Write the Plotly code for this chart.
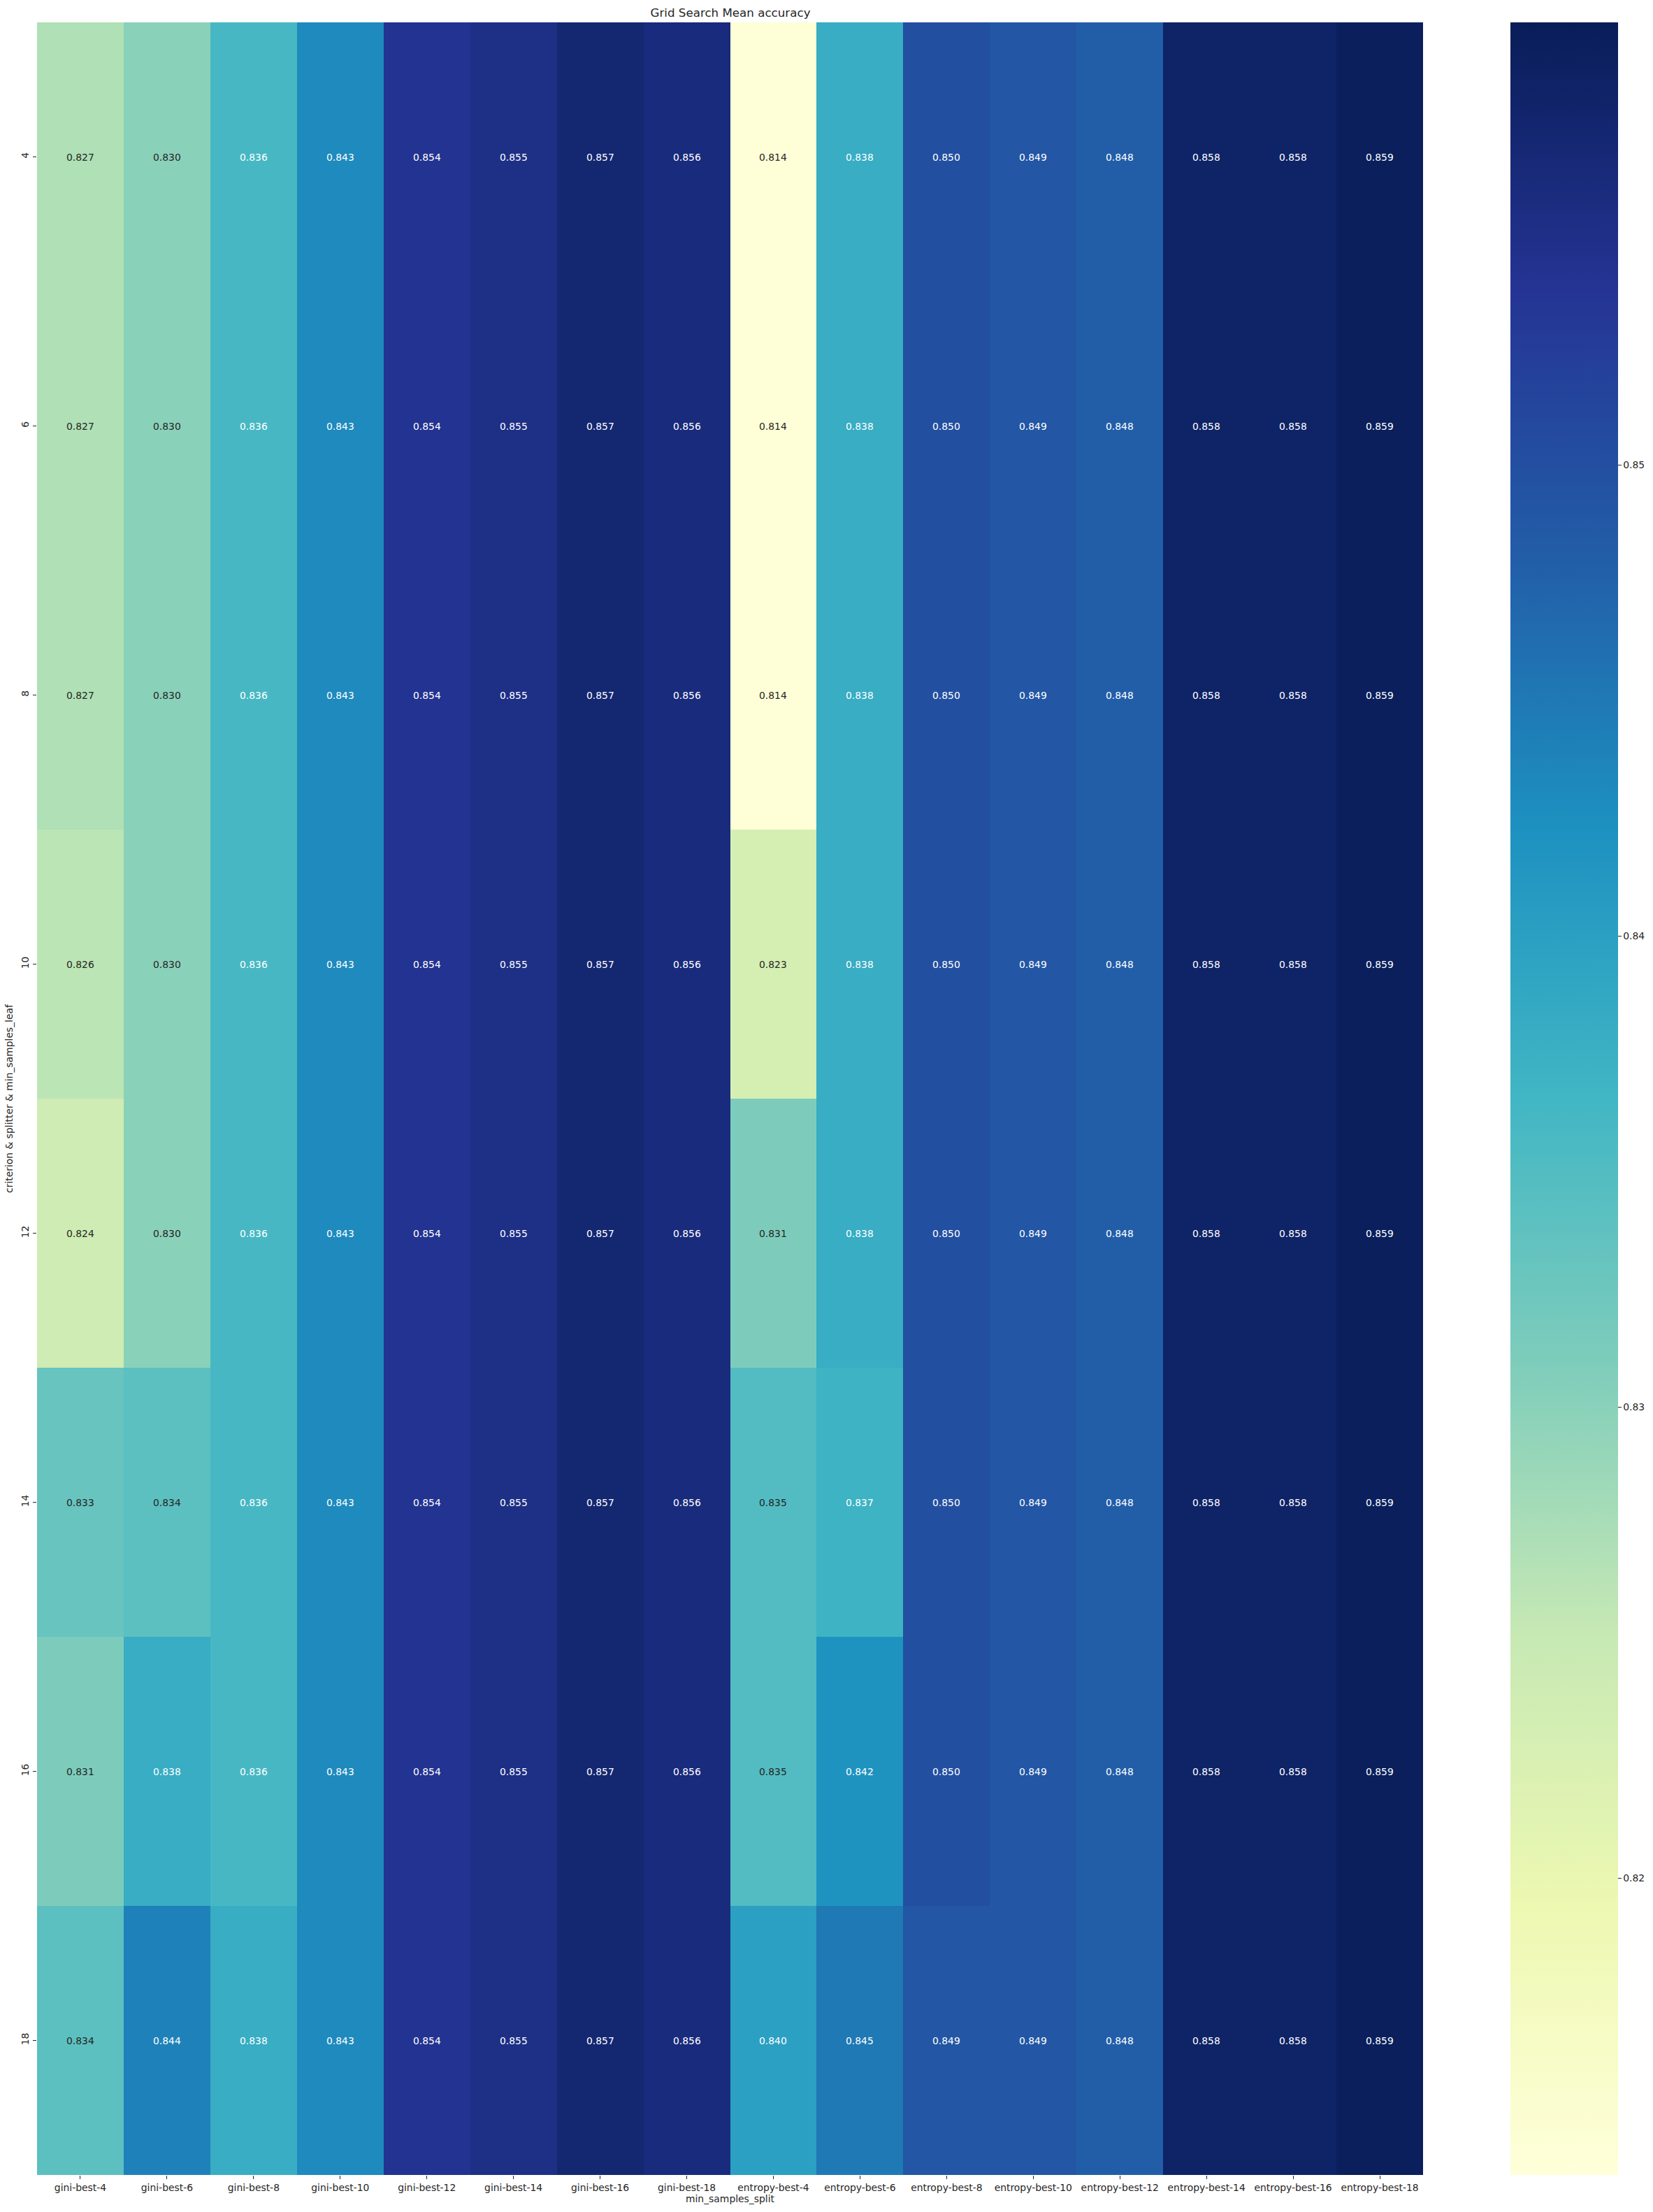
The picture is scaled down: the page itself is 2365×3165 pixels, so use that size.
import plotly.graph_objects as go
from plotly.colors import sample_colorscale

x_labels = ["gini-best-4", "gini-best-6", "gini-best-8", "gini-best-10", "gini-best-12",
            "gini-best-14", "gini-best-16", "gini-best-18", "entropy-best-4", "entropy-best-6",
            "entropy-best-8", "entropy-best-10", "entropy-best-12", "entropy-best-14",
            "entropy-best-16", "entropy-best-18"]
y_labels = ["4", "6", "8", "10", "12", "14", "16", "18"]

row_4 = [0.827, 0.830, 0.836, 0.843, 0.854, 0.855, 0.857, 0.856, 0.814, 0.838, 0.850, 0.849, 0.848, 0.858, 0.858, 0.859]
row_6 = [0.827, 0.830, 0.836, 0.843, 0.854, 0.855, 0.857, 0.856, 0.814, 0.838, 0.850, 0.849, 0.848, 0.858, 0.858, 0.859]
row_8 = [0.827, 0.830, 0.836, 0.843, 0.854, 0.855, 0.857, 0.856, 0.814, 0.838, 0.850, 0.849, 0.848, 0.858, 0.858, 0.859]
row_10 = [0.826, 0.830, 0.836, 0.843, 0.854, 0.855, 0.857, 0.856, 0.823, 0.838, 0.850, 0.849, 0.848, 0.858, 0.858, 0.859]
row_12 = [0.824, 0.830, 0.836, 0.843, 0.854, 0.855, 0.857, 0.856, 0.831, 0.838, 0.850, 0.849, 0.848, 0.858, 0.858, 0.859]
row_14 = [0.833, 0.834, 0.836, 0.843, 0.854, 0.855, 0.857, 0.856, 0.835, 0.837, 0.850, 0.849, 0.848, 0.858, 0.858, 0.859]
row_16 = [0.831, 0.838, 0.836, 0.843, 0.854, 0.855, 0.857, 0.856, 0.835, 0.842, 0.850, 0.849, 0.848, 0.858, 0.858, 0.859]
row_18 = [0.834, 0.844, 0.838, 0.843, 0.854, 0.855, 0.857, 0.856, 0.840, 0.845, 0.849, 0.849, 0.848, 0.858, 0.858, 0.859]

z = [row_4, row_6, row_8, row_10, row_12, row_14, row_16, row_18]

ZMIN, ZMAX = 0.8137, 0.8594
cbar_ticks = [0.82, 0.83, 0.84, 0.85]

W, H = 2365, 3165
L, R, T, B = 53, 2037, 32, 3112
FONT = "DejaVu Sans"
INK = "#262626"
SMALL = 13.9
TITLE = 16.7

fig = go.Figure()
fig.add_trace(go.Heatmap(
    z=z, x=x_labels, y=y_labels,
    colorscale="YlGnBu", zmin=ZMIN, zmax=ZMAX,
    colorbar=dict(
        x=(2161 - L) / (R - L), xanchor="left", xpad=0,
        y=0.5, yanchor="middle", len=1.0, lenmode="fraction", ypad=0,
        thickness=154, thicknessmode="pixels",
        outlinewidth=0,
        tickvals=cbar_ticks, ticktext=[f"{v:.2f}" for v in cbar_ticks],
        ticks="outside", ticklen=5, tickwidth=1.2, tickcolor=INK,
        tickfont=dict(family=FONT, size=SMALL, color=INK),
    ),
))

def lum(rgb):
    vals = []
    for c in rgb:
        c = c / 255.0
        vals.append(c / 12.92 if c <= 0.03928 else ((c + 0.055) / 1.055) ** 2.4)
    return 0.2126 * vals[0] + 0.7152 * vals[1] + 0.0722 * vals[2]

annotations = []
for i in range(len(y_labels)):
    for j in range(len(x_labels)):
        v = z[i][j]
        frac = min(max((v - ZMIN) / (ZMAX - ZMIN), 0), 1)
        col = sample_colorscale("YlGnBu", [frac], colortype="tuple")[0]
        rgb = [c * 255 if max(col) <= 1 else c for c in col]
        tc = INK if lum(rgb) > 0.408 else "white"
        annotations.append(dict(x=j, y=i, xref="x", yref="y", text=f"{v:.3f}",
                                showarrow=False,
                                font=dict(family=FONT, size=SMALL, color=tc)))

fig.update_layout(
    width=W, height=H,
    margin=dict(l=L, r=W - R, t=T, b=H - B, pad=0),
    paper_bgcolor="white", plot_bgcolor="white",
    font=dict(family=FONT, color=INK),
    title=dict(text="Grid Search Mean accuracy", x=(L + R) / 2 / W, xanchor="center",
               y=1 - 18 / H, yanchor="middle",
               font=dict(family=FONT, size=TITLE, color=INK)),
    annotations=annotations,
    xaxis=dict(
        type="category", showgrid=False, zeroline=False, showline=False,
        ticks="outside", ticklen=5, tickwidth=1.2, tickcolor=INK, tickangle=0,
        tickfont=dict(family=FONT, size=SMALL, color=INK),
        title=dict(text="min_samples_split", standoff=3,
                   font=dict(family=FONT, size=SMALL, color=INK)),
    ),
    yaxis=dict(
        type="category", autorange="reversed", showgrid=False, zeroline=False, showline=False,
        ticks="outside", ticklen=5, tickwidth=1.2, tickcolor=INK, tickangle=-90,
        tickfont=dict(family=FONT, size=SMALL, color=INK),
        title=dict(text="criterion & splitter & min_samples_leaf", standoff=6,
                   font=dict(family=FONT, size=SMALL, color=INK)),
    ),
)

fig.write_html("out.html", config={"displayModeBar": False},
               post_script="document.body.style.margin='0px';document.body.style.overflow='hidden';")
